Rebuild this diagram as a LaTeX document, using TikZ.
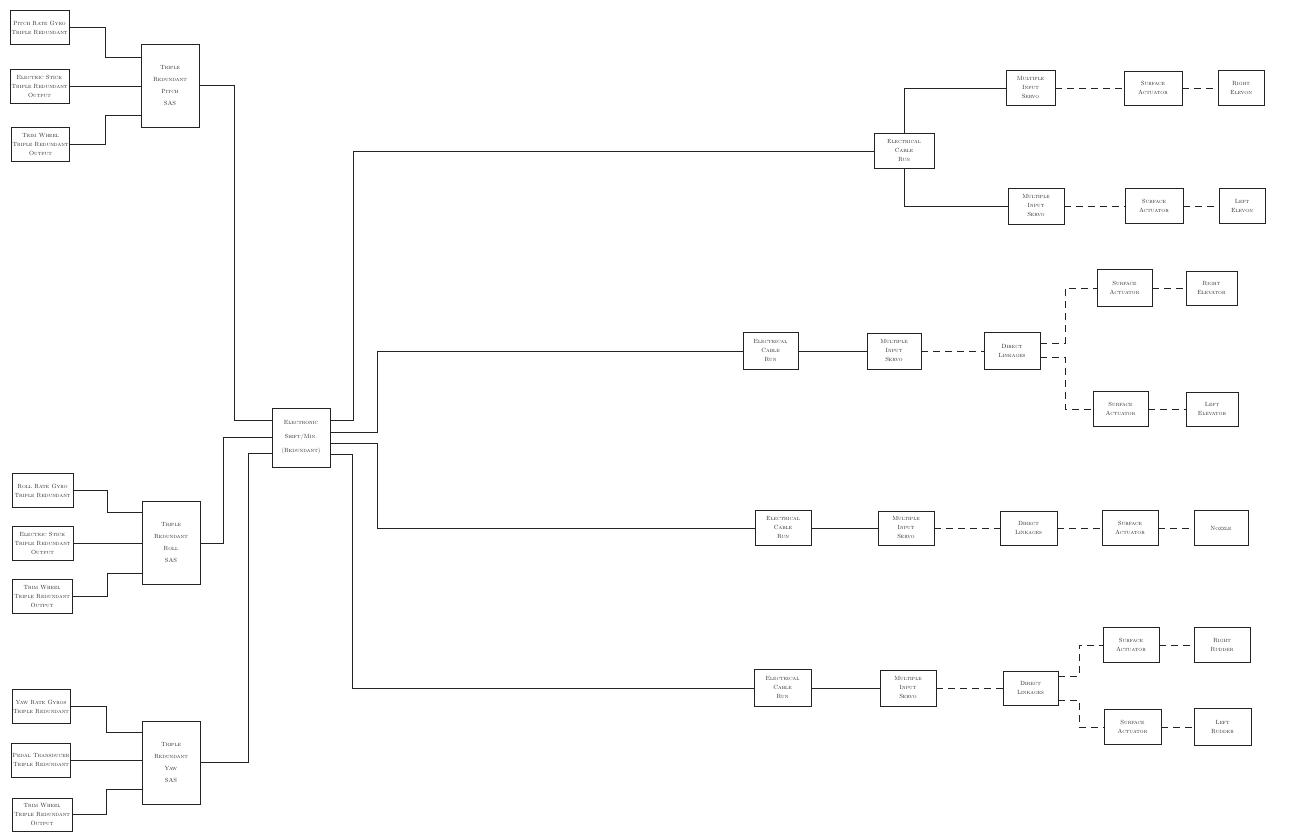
\documentclass[tikz,border=0pt]{standalone}
\usepackage{tikz}
\usetikzlibrary{calc}
\definecolor{inkgray}{RGB}{35,35,35}

\begin{document}
\begin{tikzpicture}[
			x=1pt, y=-1pt,
			font=\fontsize{6}{9}\selectfont\scshape,
			color=inkgray,
			% Box styles
			block/.style={
				draw, rectangle,
				minimum width=56pt, minimum height=36pt,
				align=center, inner sep=1pt,
				line width=0.6pt
			},
			input/.style={
				block,
				minimum width=59pt, minimum height=34pt
			},
			sas/.style={
				block,
				minimum width=58pt, minimum height=83pt,
				font=\fontsize{6}{12}\selectfont\scshape
			},
			wire/.style={line width=0.6pt},
			mech/.style={line width=0.6pt, dash pattern=on 7pt off 5pt}
		]
		\useasboundingbox (0,0) rectangle (1292,833);

		% Pitch channel
		\node[input] (pgyro) at (39.5,27.5) {Pitch Rate Gyro\\Triple Redundant};
		\node[input] (pstick) at (39.5,86) {Electric Stick\\Triple Redundant\\Output};
		\node[input, minimum width=57pt] (ptrim) at (40.5,144.5) {Trim Wheel\\Triple Redundant\\Output};
		\node[sas] (psas) at (170,85.5) {Triple\\Redundant\\Pitch\\SAS};

		% Roll channel
		\node[input, minimum width=61pt] (rgyro) at (42.5,490.5) {Roll Rate Gyro\\Triple Redundant};
		\node[input, minimum width=61pt] (rstick) at (42.5,543) {Electric Stick\\Triple Redundant\\Output};
		\node[input, minimum width=60pt] (rtrim) at (42,596.5) {Trim Wheel\\Triple Redundant\\Output};
		\node[sas] (rsas) at (171,543) {Triple\\Redundant\\Roll\\SAS};

		% Yaw channel
		\node[input, minimum width=58pt] (ygyro) at (41,706.5) {Yaw Rate Gyros\\Triple Redundant};
		\node[input, minimum width=58pt] (ypedal) at (41,760) {Pedal Transducer\\Triple Redundant};
		\node[input, minimum width=60pt, minimum height=33pt] (ytrim) at (42,814.5) {Trim Wheel\\Triple Redundant\\Output};
		\node[sas] (ysas) at (171,762.5) {Triple\\Redundant\\Yaw\\SAS};

		% Shift / min box
		\node[block, minimum width=58pt, minimum height=59pt,
			font=\fontsize{6}{14}\selectfont\scshape] (shift) at (301,437.5)
			{Electronic\\Shift/Min.\\(Redundant)};

		% Elevons
		\node[block, minimum width=60pt, minimum height=35pt] (cable1) at (904,151) {Electrical\\Cable\\Run};
		\node[block, minimum width=49pt, minimum height=35pt] (servo1) at (1030.5,88) {Multiple\\Input\\Servo};
		\node[block] (servo2) at (1036,206) {Multiple\\Input\\Servo};
		\node[block, minimum width=58pt, minimum height=34pt] (act1) at (1153,88) {Surface\\Actuator};
		\node[block, minimum width=58pt, minimum height=35pt] (act2) at (1154,206) {Surface\\Actuator};
		\node[block, minimum width=46pt, minimum height=35pt] (relevon) at (1241,88) {Right\\Elevon};
		\node[block, minimum width=46pt, minimum height=35pt] (lelevon) at (1242,206) {Left\\Elevon};

		% Elevators
		\node[block, minimum width=55pt, minimum height=37pt] (cable2) at (770.5,351) {Electrical\\Cable\\Run};
		\node[block, minimum width=54pt] (servo3) at (894,351) {Multiple\\Input\\Servo};
		\node[block, minimum height=37pt] (link1) at (1012,351) {Direct\\Linkages};
		\node[block, minimum width=55pt, minimum height=37pt] (act3) at (1124.5,288) {Surface\\Actuator};
		\node[block, minimum width=51pt, minimum height=34pt] (relevator) at (1211.5,288) {Right\\Elevator};
		\node[block, minimum width=55pt, minimum height=35pt] (act4) at (1120.5,409) {Surface\\Actuator};
		\node[block, minimum width=52pt, minimum height=34pt] (lelevator) at (1212,409) {Left\\Elevator};

		% Nozzle
		\node[block, minimum height=35pt] (cable3) at (783,528) {Electrical\\Cable\\Run};
		\node[block, minimum height=34pt] (servo4) at (906,528) {Multiple\\Input\\Servo};
		\node[block, minimum width=57pt, minimum height=34pt] (link2) at (1028.5,528) {Direct\\Linkages};
		\node[block, minimum height=35pt] (act5) at (1130,528) {Surface\\Actuator};
		\node[block, minimum width=54pt, minimum height=35pt] (nozzle) at (1221,528) {Nozzle};

		% Rudders
		\node[block, minimum width=57pt, minimum height=37pt] (cable4) at (782.5,688) {Electrical\\Cable\\Run};
		\node[block] (servo5) at (908,688) {Multiple\\Input\\Servo};
		\node[block, minimum width=55pt, minimum height=34pt] (link3) at (1030.5,688) {Direct\\Linkages};
		\node[block, minimum height=35pt] (act6) at (1131,645) {Surface\\Actuator};
		\node[block, minimum height=35pt] (rrudder) at (1222,645) {Right\\Rudder};
		\node[block, minimum width=57pt, minimum height=35pt] (act7) at (1132.5,727) {Surface\\Actuator};
		\node[block, minimum width=57pt, minimum height=37pt] (lrudder) at (1222.5,727) {Left\\Rudder};

		% Sensor wiring
		\draw[wire] (pgyro.east) -- ++(36,0) |- ([yshift=28pt]psas.west);
		\draw[wire] (pstick.east) -- (psas.west |- pstick.east);
		\draw[wire] (ptrim.east) -- ++(36,0) |- ([yshift=-30pt]psas.west);

		\draw[wire] (rgyro.east) -- ++(34,0) |- ([yshift=31pt]rsas.west);
		\draw[wire] (rstick.east) -- (rsas.west);
		\draw[wire] (rtrim.east) -- ++(35,0) |- ([yshift=-30pt]rsas.west);

		\draw[wire] (ygyro.east) -- ++(36,0) |- ([yshift=30pt]ysas.west);
		\draw[wire] (ypedal.east) -- (ysas.west |- ypedal.east);
		\draw[wire] (ytrim.east) -- ++(34,0) |- ([yshift=-27pt]ysas.west);

		% SAS to shift/min
		\draw[wire] (psas.east) -- ++(35,0) |- ([yshift=17pt]shift.west);
		\draw[wire] (rsas.east) -- ++(23,0) |- (shift.west);
		\draw[wire] (ysas.east) -- ++(48,0) |- ([yshift=-16pt]shift.west);

		% Shift/min to cable runs
		\draw[wire] ([yshift=17pt]shift.east) -- ++(23,0) |- (cable1.west);
		\draw[wire] ([yshift=5pt]shift.east) -- ++(47,0) |- (cable2.west);
		\draw[wire] ([yshift=-6pt]shift.east) -- ++(47,0) |- (cable3.west);
		\draw[wire] ([yshift=-17pt]shift.east) -- ++(22,0) |- (cable4.west);

		% Elevon lines
		\draw[wire] (cable1.north) |- (servo1.west);
		\draw[wire] (cable1.south) |- (servo2.west);
		\draw[mech] (servo1.east) -- (act1.west);
		\draw[mech] (act1.east) -- (relevon.west);
		\draw[mech] (servo2.east) -- (act2.west);
		\draw[mech] (act2.east) -- (lelevon.west);

		% Elevator lines
		\draw[wire] (cable2.east) -- (servo3.west);
		\draw[mech] (servo3.east) -- (link1.west);
		\draw[mech] ([yshift=8pt]link1.east) -- ++(25,0) |- (act3.west);
		\draw[mech] ([yshift=-6pt]link1.east) -- ++(25,0) |- (act4.west);
		\draw[mech] (act3.east) -- (relevator.west);
		\draw[mech] (act4.east) -- (lelevator.west);

		% Nozzle lines
		\draw[wire] (cable3.east) -- (servo4.west);
		\draw[mech] (servo4.east) -- (link2.west);
		\draw[mech] (link2.east) -- (act5.west);
		\draw[mech] (act5.east) -- (nozzle.west);

		% Rudder lines
		\draw[wire] (cable4.east) -- (servo5.west);
		\draw[mech] (servo5.east) -- (link3.west);
		\draw[mech] ([yshift=12pt]link3.east) -- ++(21,0) |- (act6.west);
		\draw[mech] ([yshift=-12pt]link3.east) -- ++(21,0) |- (act7.west);
		\draw[mech] (act6.east) -- (rrudder.west);
		\draw[mech] (act7.east) -- (lrudder.west);

		\end{tikzpicture}
\end{document}
